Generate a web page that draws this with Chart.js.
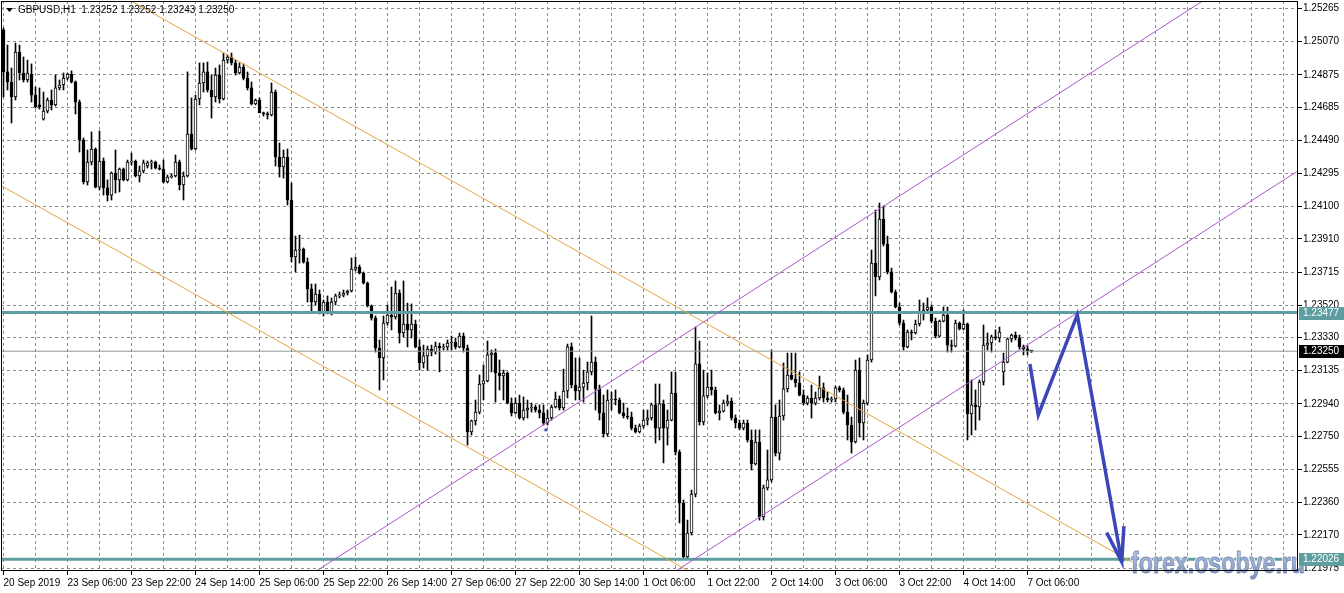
<!DOCTYPE html>
<html><head><meta charset="utf-8">
<script src="https://cdn.jsdelivr.net/npm/chart.js@4.4.1/dist/chart.umd.min.js"></script>
<style>html,body{margin:0;padding:0;background:#fff;}#wrap{width:1344px;height:593px;position:relative;}</style>
</head><body><div id="wrap"><canvas id="c" width="1344" height="593"></canvas></div>
<script>
const symbol = "GBPUSD,H1";
const xLabels = ["20 Sep 2019","23 Sep 06:00","23 Sep 22:00","24 Sep 14:00","25 Sep 06:00","25 Sep 22:00","26 Sep 14:00","27 Sep 06:00","27 Sep 22:00","30 Sep 14:00","1 Oct 06:00","1 Oct 22:00","2 Oct 14:00","3 Oct 06:00","3 Oct 22:00","4 Oct 14:00","7 Oct 06:00"];
const yTicks = [1.25265,1.25070,1.24875,1.24685,1.24490,1.24295,1.24100,1.23910,1.23715,1.23520,1.23330,1.23135,1.22940,1.22750,1.22555,1.22360,1.22170,1.21975];

const open = [
1.25139,1.24892,1.24833,1.24745,1.25009,1.24886,1.24845,1.24880,1.24756,1.24698,
1.24615,1.24662,1.24727,1.24698,1.24798,1.24815,1.24856,1.24880,1.24833,1.24715,
1.24492,1.24245,1.24362,1.24439,1.24215,1.24368,1.24210,1.24168,1.24298,1.24257,
1.24321,1.24257,1.24362,1.24368,1.24280,1.24310,1.24339,1.24357,1.24362,1.24327,
1.24321,1.24245,1.24274,1.24280,1.24362,1.24227,1.24280,1.24527,1.24439,1.24733,
1.24827,1.24892,1.24786,1.24745,1.24874,1.24733,1.24962,1.24980,1.24945,1.24886,
1.24921,1.24856,1.24798,1.24704,1.24727,1.24651,1.24645,1.24639,1.24774,1.24392,
1.24333,1.24392,1.24139,1.23804,1.23845,1.23851,1.23774,1.23616,1.23539,1.23586,
1.23475,1.23539,1.23475,1.23539,1.23575,1.23580,1.23592,1.23604,1.23733,1.23745,
1.23710,1.23651,1.23516,1.23445,1.23269,1.23210,1.23416,1.23463,1.23451,1.23592,
1.23357,1.23410,1.23375,1.23410,1.23275,1.23181,1.23222,1.23263,1.23245,1.23280,
1.23269,1.23275,1.23298,1.23304,1.23275,1.23339,1.23269,1.22775,1.22840,1.22892,
1.23057,1.23075,1.23228,1.23239,1.23122,1.23104,1.23122,1.22945,1.22887,1.22945,
1.22857,1.22904,1.22916,1.22922,1.22904,1.22887,1.22828,1.22857,1.22922,1.22969,
1.22916,1.23016,1.23275,1.23051,1.23016,1.23039,1.23063,1.23128,1.23186,1.23028,
1.22887,1.22763,1.22963,1.22969,1.22963,1.22887,1.22869,1.22863,1.22798,1.22775,
1.22810,1.22845,1.22857,1.22934,1.22798,1.22940,1.22798,1.22845,1.23004,1.22657,
1.22357,1.22040,1.22181,1.22410,1.23175,1.22834,1.22987,1.23039,1.23022,1.22887,
1.22898,1.22945,1.22957,1.22857,1.22828,1.22798,1.22828,1.22728,1.22587,1.22716,
1.22275,1.22446,1.22493,1.22863,1.22651,1.22869,1.23028,1.23110,1.23086,1.23063,
1.22992,1.22945,1.22975,1.22945,1.22975,1.23034,1.22975,1.22963,1.22969,1.23034,
1.23022,1.22892,1.22816,1.22716,1.23139,1.22828,1.22945,1.23198,1.23768,1.23686,
1.24027,1.23880,1.23716,1.23598,1.23510,1.23416,1.23275,1.23363,1.23357,1.23410,
1.23475,1.23492,1.23510,1.23427,1.23339,1.23427,1.23463,1.23286,1.23280,1.23416,
1.23381,1.23410,1.22881,1.22934,1.22922,1.23069,1.23286,1.23298,1.23334,1.23328,
1.23128,1.23186,1.23322,1.23345,1.23328,1.23275,1.23263,1.23252];

const high = [
1.25150,1.25050,1.24915,1.25062,1.25050,1.24980,1.24962,1.24939,1.24803,1.24798,
1.24774,1.24739,1.24786,1.24874,1.24845,1.24886,1.24886,1.24898,1.24839,1.24727,
1.24504,1.24433,1.24539,1.24445,1.24545,1.24386,1.24257,1.24304,1.24433,1.24327,
1.24327,1.24374,1.24415,1.24374,1.24339,1.24374,1.24368,1.24374,1.24368,1.24345,
1.24374,1.24286,1.24292,1.24404,1.24374,1.24304,1.24892,1.24739,1.24756,1.24945,
1.24945,1.24950,1.24874,1.24915,1.24933,1.25003,1.24992,1.25003,1.24962,1.24945,
1.24939,1.24892,1.24833,1.24733,1.24739,1.24656,1.24656,1.24827,1.24786,1.24474,
1.24433,1.24439,1.24239,1.23927,1.23933,1.23857,1.23798,1.23645,1.23645,1.23610,
1.23551,1.23575,1.23563,1.23586,1.23598,1.23610,1.23610,1.23798,1.23804,1.23757,
1.23716,1.23657,1.23522,1.23457,1.23316,1.23457,1.23522,1.23627,1.23663,1.23610,
1.23663,1.23533,1.23528,1.23433,1.23316,1.23286,1.23280,1.23286,1.23304,1.23298,
1.23292,1.23316,1.23339,1.23328,1.23357,1.23357,1.23286,1.22845,1.22963,1.23110,
1.23169,1.23310,1.23257,1.23263,1.23198,1.23139,1.23128,1.22975,1.22975,1.22992,
1.22981,1.22963,1.22945,1.22934,1.22934,1.22934,1.22904,1.22934,1.23010,1.22987,
1.23145,1.23292,1.23298,1.23210,1.23210,1.23139,1.23186,1.23457,1.23216,1.23051,
1.22992,1.23022,1.23010,1.23022,1.22975,1.22945,1.22916,1.22892,1.22816,1.22822,
1.22904,1.22904,1.22945,1.23057,1.23057,1.22963,1.22904,1.23128,1.23128,1.22669,
1.22375,1.22257,1.22434,1.23392,1.23310,1.23139,1.23122,1.23139,1.23039,1.22934,
1.22963,1.22992,1.22975,1.22875,1.22845,1.22845,1.22845,1.22787,1.22787,1.22787,
1.22463,1.22669,1.23257,1.22934,1.22963,1.23181,1.23239,1.23239,1.23239,1.23128,
1.23022,1.22987,1.23051,1.23010,1.23104,1.23063,1.23010,1.22981,1.23045,1.23045,
1.23034,1.22992,1.22863,1.23198,1.23210,1.22963,1.23228,1.23845,1.24080,1.24121,
1.24104,1.23927,1.23739,1.23610,1.23533,1.23433,1.23375,1.23375,1.23433,1.23551,
1.23533,1.23563,1.23522,1.23445,1.23433,1.23510,1.23510,1.23316,1.23433,1.23422,
1.23492,1.23416,1.23081,1.23022,1.23081,1.23404,1.23357,1.23345,1.23375,1.23392,
1.23239,1.23328,1.23351,1.23363,1.23345,1.23286,1.23280,1.23252];

const low = [
1.24745,1.24786,1.24592,1.24727,1.24845,1.24833,1.24833,1.24715,1.24680,1.24674,
1.24609,1.24651,1.24668,1.24692,1.24786,1.24786,1.24845,1.24827,1.24645,1.24421,
1.24233,1.24227,1.24345,1.24210,1.24198,1.24168,1.24133,1.24139,1.24180,1.24186,
1.24251,1.24251,1.24345,1.24274,1.24245,1.24298,1.24327,1.24321,1.24321,1.24315,
1.24239,1.24239,1.24268,1.24274,1.24198,1.24139,1.24274,1.24433,1.24433,1.24698,
1.24774,1.24774,1.24621,1.24715,1.24709,1.24727,1.24945,1.24933,1.24874,1.24880,
1.24845,1.24786,1.24698,1.24698,1.24651,1.24633,1.24615,1.24633,1.24339,1.24274,
1.24268,1.24110,1.23774,1.23716,1.23768,1.23768,1.23539,1.23480,1.23522,1.23469,
1.23457,1.23469,1.23463,1.23522,1.23563,1.23569,1.23580,1.23598,1.23722,1.23704,
1.23645,1.23510,1.23433,1.23245,1.23022,1.23081,1.23404,1.23375,1.23439,1.23298,
1.23334,1.23275,1.23328,1.23269,1.23139,1.23151,1.23139,1.23222,1.23233,1.23128,
1.23257,1.23257,1.23257,1.23263,1.23269,1.23245,1.22698,1.22757,1.22816,1.22881,
1.22963,1.23069,1.23128,1.22951,1.23022,1.22963,1.22940,1.22869,1.22881,1.22851,
1.22845,1.22857,1.22892,1.22892,1.22857,1.22816,1.22816,1.22845,1.22916,1.22904,
1.22904,1.22975,1.23034,1.22963,1.22963,1.22951,1.23022,1.23110,1.22904,1.22845,
1.22745,1.22751,1.22904,1.22934,1.22881,1.22857,1.22851,1.22787,1.22769,1.22769,
1.22798,1.22816,1.22845,1.22710,1.22728,1.22593,1.22698,1.22840,1.22640,1.22240,
1.22034,1.22034,1.22169,1.22393,1.22816,1.22816,1.22975,1.22992,1.22881,1.22845,
1.22892,1.22928,1.22845,1.22798,1.22787,1.22787,1.22716,1.22551,1.22581,1.22257,
1.22257,1.22434,1.22481,1.22634,1.22610,1.22845,1.23010,1.23081,1.23039,1.22987,
1.22934,1.22934,1.22857,1.22934,1.22963,1.22951,1.22951,1.22951,1.22951,1.23010,
1.22881,1.22728,1.22651,1.22710,1.22745,1.22728,1.22934,1.23186,1.23575,1.23669,
1.23868,1.23704,1.23592,1.23504,1.23404,1.23257,1.23269,1.23316,1.23351,1.23398,
1.23433,1.23480,1.23416,1.23328,1.23334,1.23422,1.23245,1.23245,1.23275,1.23375,
1.23375,1.22728,1.22757,1.22787,1.22845,1.23051,1.23257,1.23245,1.23316,1.23304,
1.23051,1.23181,1.23304,1.23316,1.23263,1.23228,1.23228,1.23243];

const close = [
1.24892,1.24833,1.24745,1.25009,1.24886,1.24845,1.24886,1.24756,1.24686,1.24686,
1.24662,1.24727,1.24698,1.24798,1.24815,1.24856,1.24880,1.24833,1.24715,1.24492,
1.24245,1.24362,1.24439,1.24215,1.24368,1.24210,1.24168,1.24298,1.24257,1.24321,
1.24257,1.24362,1.24368,1.24280,1.24310,1.24357,1.24357,1.24362,1.24327,1.24321,
1.24245,1.24274,1.24280,1.24362,1.24227,1.24280,1.24527,1.24439,1.24733,1.24827,
1.24892,1.24786,1.24745,1.24874,1.24733,1.24962,1.24980,1.24945,1.24886,1.24921,
1.24856,1.24798,1.24704,1.24727,1.24651,1.24645,1.24639,1.24774,1.24392,1.24333,
1.24392,1.24139,1.23804,1.23845,1.23851,1.23774,1.23616,1.23539,1.23586,1.23475,
1.23539,1.23475,1.23539,1.23575,1.23580,1.23592,1.23604,1.23733,1.23745,1.23710,
1.23651,1.23516,1.23445,1.23269,1.23210,1.23416,1.23463,1.23451,1.23592,1.23357,
1.23410,1.23375,1.23410,1.23275,1.23181,1.23222,1.23263,1.23245,1.23280,1.23269,
1.23275,1.23298,1.23304,1.23275,1.23339,1.23269,1.22775,1.22840,1.22892,1.23057,
1.23075,1.23228,1.23239,1.23122,1.23104,1.23122,1.22945,1.22887,1.22945,1.22857,
1.22904,1.22916,1.22922,1.22904,1.22887,1.22828,1.22857,1.22922,1.22969,1.22916,
1.23016,1.23275,1.23051,1.23016,1.23039,1.23063,1.23128,1.23186,1.23028,1.22887,
1.22763,1.22963,1.22969,1.22963,1.22887,1.22869,1.22863,1.22798,1.22775,1.22810,
1.22845,1.22857,1.22934,1.22798,1.22940,1.22798,1.22845,1.23004,1.22657,1.22357,
1.22040,1.22181,1.22410,1.23175,1.22834,1.22987,1.23039,1.23022,1.22887,1.22898,
1.22945,1.22957,1.22857,1.22828,1.22798,1.22828,1.22728,1.22587,1.22716,1.22275,
1.22446,1.22493,1.22863,1.22651,1.22869,1.23028,1.23110,1.23086,1.23063,1.22992,
1.22945,1.22975,1.22945,1.22975,1.23034,1.22975,1.22963,1.22969,1.23034,1.23022,
1.22892,1.22816,1.22716,1.23139,1.22828,1.22945,1.23198,1.23768,1.23686,1.24027,
1.23880,1.23716,1.23598,1.23510,1.23416,1.23275,1.23363,1.23357,1.23410,1.23475,
1.23492,1.23510,1.23427,1.23339,1.23427,1.23463,1.23286,1.23280,1.23416,1.23381,
1.23410,1.22881,1.22934,1.22922,1.23069,1.23286,1.23298,1.23334,1.23328,1.23363,
1.23186,1.23322,1.23345,1.23328,1.23275,1.23263,1.23252,1.23250];

// horizontal levels
const resistance = 1.23477;
const support = 1.22026;
// trend lines (x = candle index, y = price)
const orangeUpper = [{x:20, y:1.25466}, {x:290, y:1.21906}];
const orangeLower = [{x:-1, y:1.24229}, {x:172, y:1.21948}];
const purpleUpper = [{x:75, y:1.21909}, {x:305, y:1.25388}];
const purpleLower = [{x:168, y:1.21956}, {x:330, y:1.24407}];
// hand-drawn forecast arrow
const forecastPath = [{x:256.6, y:1.23175}, {x:258.7, y:1.22875}, {x:268.45, y:1.23463}, {x:279.55, y:1.22012}];
const forecastHead = [{x:275.8, y:1.22183}, {x:279.55, y:1.22012}, {x:280.1, y:1.22222}];
const marker = [{x:135.6, y:1.22787}];

const n = Math.min(open.length, high.length, low.length, close.length);
const idx = Array.from({length: n}, (_, i) => i);
const wickData = idx.map(i => ({x: i, y: [low[i], high[i]]}));
const bodyData = idx.map(i => ({x: i, y: [open[i], close[i]]}));
const bodyFill = idx.map(i => close[i] >= open[i] ? '#ffffff' : '#000000');
const last = close[n - 1];
const gridIdx = [];
for (let v = 0; v <= 320; v += 8) gridIdx.push(v);

const X_MIN = -0.625, X_MAX = 323.625;
const Y_MAX = 1.2530912, Y_MIN = 1.2195752;
const FONT = 'Liberation Sans';
const TEAL = '#5f9ea0';

function hline(v, color, w, order) {
  return {type: 'line', data: [{x: -5, y: v}, {x: 340, y: v}], borderColor: color, borderWidth: w,
    pointRadius: 0, fill: false, tension: 0, order: order};
}
function tline(d, color, w, order) {
  return {type: 'line', data: d, borderColor: color, borderWidth: w, pointRadius: 0, fill: false,
    tension: 0, order: order, borderJoinStyle: 'miter'};
}

const overlay = {
  id: 'overlay',
  afterDatasetsDraw(chart) {
    const ctx = chart.ctx;
    const text = 'forex.osobye.ru';
    ctx.save();
    ctx.translate(1131, 573);
    ctx.scale(0.8, 1);
    ctx.font = 'bold 29px "' + FONT + '"';
    ctx.textBaseline = 'alphabetic';
    ctx.textAlign = 'left';
    ctx.lineJoin = 'round';
    ctx.lineWidth = 3;
    ctx.strokeStyle = 'rgba(255,255,255,0.85)';
    ctx.strokeText(text, 0, 0);
    const g = ctx.createLinearGradient(0, -21, 0, 2);
    g.addColorStop(0, 'rgba(170,188,218,0.9)');
    g.addColorStop(1, 'rgba(118,142,186,0.9)');
    ctx.fillStyle = g;
    ctx.fillText(text, 0, 0);
    ctx.lineWidth = 0.8;
    ctx.strokeStyle = 'rgba(90,110,160,0.7)';
    ctx.strokeText(text, 0, 0);
    ctx.restore();
  },
  afterDraw(chart) {
    const ctx = chart.ctx, a = chart.chartArea, y = chart.scales.y;
    ctx.save();
    // frame
    ctx.strokeStyle = '#000'; ctx.lineWidth = 1; ctx.setLineDash([]);
    ctx.strokeRect(a.left + 0.5, a.top + 0.5, a.right - a.left - 1, a.bottom - a.top - 1);
    // header
    ctx.fillStyle = '#000';
    ctx.beginPath(); ctx.moveTo(6, 8); ctx.lineTo(13, 8); ctx.lineTo(9.5, 12); ctx.closePath(); ctx.fill();
    ctx.font = '10px "' + FONT + '"';
    ctx.textBaseline = 'middle'; ctx.textAlign = 'left';
    ctx.fillText(symbol + '  ' + [open[n-1], high[n-1], low[n-1], close[n-1]].map(v => v.toFixed(5)).join(' '), 18, 10.5);
    // price tags
    const tag = (v, bg) => {
      const py = Math.round(y.getPixelForValue(v));
      ctx.fillStyle = bg;
      ctx.fillRect(a.right + 1, py - 6, chart.width - a.right - 1, 13);
      ctx.fillStyle = '#fff';
      ctx.fillText(v.toFixed(5), a.right + 5, py + 0.5);
    };
    tag(resistance, TEAL);
    tag(last, '#000');
    tag(support, TEAL);
    ctx.restore();
  }
};

Chart.defaults.font.family = FONT;
Chart.defaults.font.size = 10;
Chart.defaults.color = '#000';

new Chart(document.getElementById('c'), {
  type: 'bar',
  data: {
    datasets: [
      tline(forecastPath, '#3b47b9', 3.5, 0),
      tline(forecastHead, '#3b47b9', 3.5, 0),
      {type: 'line', data: marker, showLine: false, pointStyle: 'rect', pointRadius: 2,
        pointBackgroundColor: '#3b47b9', pointBorderWidth: 0, order: 0},
      tline(orangeUpper, '#e2a73e', 1, 1),
      tline(orangeLower, '#e2a73e', 1, 1),
      tline(purpleUpper, '#a957c8', 1, 1),
      tline(purpleLower, '#a957c8', 1, 1),
      hline(resistance, TEAL, 3, 2),
      hline(support, TEAL, 3, 2),
      hline(last, '#8a9898', 1, 3),
      {type: 'bar', data: bodyData, backgroundColor: bodyFill, borderColor: '#000', borderWidth: 1,
        borderSkipped: false, barThickness: 3, grouped: false, minBarLength: 1, order: 4},
      {type: 'bar', data: wickData, backgroundColor: '#000', borderWidth: 0, barThickness: 1,
        grouped: false, order: 5}
    ]
  },
  options: {
    responsive: false, devicePixelRatio: 1, animation: false, events: [],
    layout: {padding: {left: 1, top: 1, right: 0, bottom: 0}, autoPadding: false},
    plugins: {legend: {display: false}, tooltip: {enabled: false}},
    scales: {
      x: {
        type: 'linear', min: X_MIN, max: X_MAX, bounds: 'data', offset: false,
        afterBuildTicks: s => { s.ticks = gridIdx.map(v => ({value: v})); },
        afterFit: s => { s.height = 22; s.paddingLeft = 0; s.paddingRight = 0; },
        ticks: {autoSkip: false, maxRotation: 0, minRotation: 0, align: 'start', padding: 2,
          callback: v => (v % 16 === 0 && xLabels[v / 16]) ? xLabels[v / 16] : ''},
        grid: {offset: false, color: '#8c8c8c', lineWidth: 1, tickLength: 4, tickBorderDash: [],
          tickColor: c => (c.tick && c.tick.value % 16 === 0 && xLabels[c.tick.value / 16]) ? '#000' : 'rgba(0,0,0,0)'},
        border: {display: false, dash: [3, 3]}
      },
      y: {
        type: 'linear', position: 'right', min: Y_MIN, max: Y_MAX, bounds: 'data', beginAtZero: false,
        afterBuildTicks: s => { s.ticks = yTicks.map(v => ({value: v})); },
        afterFit: s => { s.width = 46; s.paddingTop = 0; s.paddingBottom = 0; },
        ticks: {autoSkip: false, padding: 1, callback: v => Number(v).toFixed(5)},
        grid: {color: '#8c8c8c', lineWidth: 1, tickLength: 4, tickColor: '#000', tickBorderDash: []},
        border: {display: false, dash: [3, 3]}
      }
    }
  },
  plugins: [overlay]
});
</script>
</body></html>
